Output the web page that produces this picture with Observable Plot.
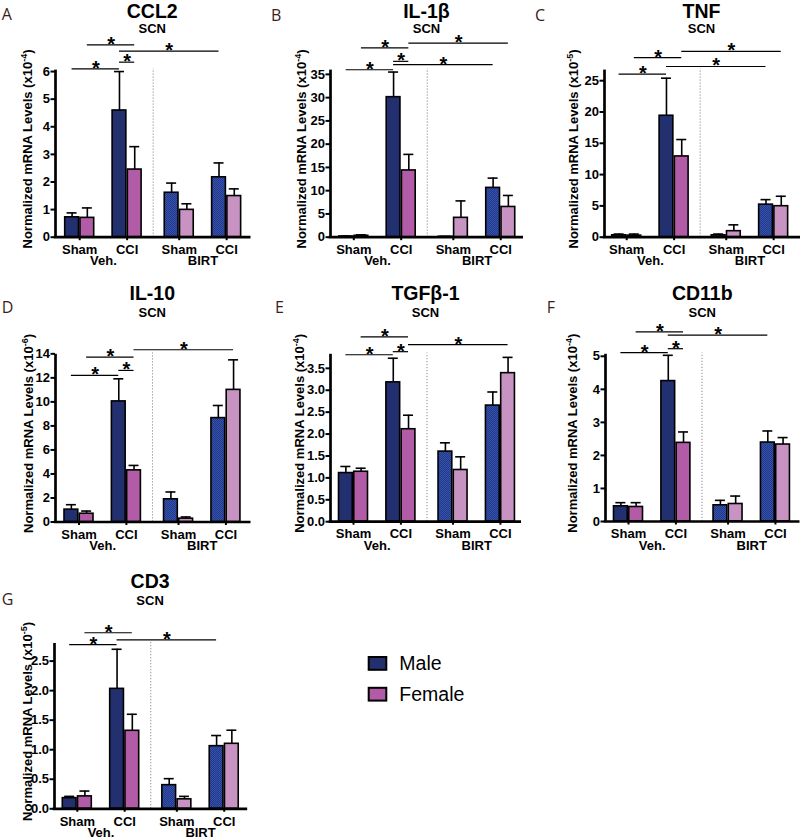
<!DOCTYPE html>
<html><head><meta charset="utf-8">
<script src="https://cdn.jsdelivr.net/npm/d3@7"></script>
<script src="https://cdn.jsdelivr.net/npm/@observablehq/plot@0.6"></script>
<style>
body{margin:0;background:#fff;}
#page{position:relative;width:800px;height:840px;overflow:hidden;background:#fff;}
#page svg{position:absolute;}
#page svg.panel text{font-weight:bold;}
</style></head><body><div id="page"></div>
<script>
// ---------- categories ----------
const conditions = ["Sham", "CCI"];
const treatments = ["Veh.", "BIRT"];
const sexes = ["Male", "Female"];
const sexColors = ["#223070", "#b25ba6"];
// group order: Veh. Sham, Veh. CCI, BIRT Sham, BIRT CCI

// ---------- A: CCL2 (x10^-4) ----------
const ccl2Male = [0.72, 4.59, 1.61, 2.17];
const ccl2MaleSem = [0.16, 1.41, 0.35, 0.52];
const ccl2Female = [0.70, 2.45, 0.99, 1.49];
const ccl2FemaleSem = [0.36, 0.83, 0.22, 0.26];
const ccl2Ticks = [0, 1, 2, 3, 4, 5, 6];
const ccl2Sig = [["0M","1M",6.1],["1M","1F",6.34],["1M","3M",6.74],["0F","1F",6.97]];

// ---------- B: IL-1b (x10^-4) ----------
const il1bMale = [0.15, 30.1, 0.1, 10.6];
const il1bMaleSem = [0.1, 5.4, 0.05, 2.1];
const il1bFemale = [0.3, 14.35, 4.16, 6.5];
const il1bFemaleSem = [0.2, 3.45, 3.64, 2.47];
const il1bTicks = [0, 5, 10, 15, 20, 25, 30, 35];
const il1bSig = [["0M","1M",36.0],["1M","1F",37.8],["1M","3M",37.1],["0F","1F",40.7],["1F","3F",41.7]];

// ---------- C: TNF (x10^-5) ----------
const tnfMale = [0.3, 19.4, 0.3, 5.2];
const tnfMaleSem = [0.2, 6.0, 0.2, 0.8];
const tnfFemale = [0.25, 12.9, 0.96, 4.95];
const tnfFemaleSem = [0.25, 2.7, 1.01, 1.59];
const tnfTicks = [0, 5, 10, 15, 20, 25];
const tnfSig = [["0M","1M",26.06],["0F","1F",28.7],["1M","3M",27.27],["1F","3F",29.67]];

// ---------- D: IL-10 (x10^-6) ----------
const il10Male = [1.03, 10.04, 1.89, 8.65];
const il10MaleSem = [0.41, 1.88, 0.61, 1.05];
const il10Female = [0.69, 4.3, 0.28, 11.0];
const il10FemaleSem = [0.22, 0.41, 0.14, 2.5];
const il10Ticks = [0, 2, 4, 6, 8, 10, 12, 14];
const il10Sig = [["0M","1M",12.2],["1M","1F",12.62],["0F","1F",13.73],["1F","3F",14.34]];

// ---------- E: TGFb-1 (x10^-4) ----------
const tgfMale = [1.11, 3.18, 1.6, 2.65];
const tgfMaleSem = [0.15, 0.55, 0.2, 0.31];
const tgfFemale = [1.14, 2.11, 1.18, 3.39];
const tgfFemaleSem = [0.08, 0.32, 0.3, 0.36];
const tgfTicks = [0, 0.5, 1, 1.5, 2, 2.5, 3, 3.5];
const tgfSig = [["0M","1M",3.81],["1M","1F",3.88],["0F","1F",4.22],["1F","3F",4.04]];

// ---------- F: CD11b (x10^-4) ----------
const cd11bMale = [0.46, 4.25, 0.49, 2.39];
const cd11bMaleSem = [0.11, 0.78, 0.15, 0.35];
const cd11bFemale = [0.44, 2.38, 0.53, 2.33];
const cd11bFemaleSem = [0.13, 0.33, 0.24, 0.21];
const cd11bTicks = [0, 1, 2, 3, 4, 5];
const cd11bSig = [["0M","1M",5.11],["1M","1F",5.23],["0F","1F",5.74],["1M","3M",5.64]];

// ---------- G: CD3 (x10^-5) ----------
const cd3Male = [0.18, 2.03, 0.4, 1.06];
const cd3MaleSem = [0.03, 0.67, 0.11, 0.18];
const cd3Female = [0.21, 1.32, 0.16, 1.1];
const cd3FemaleSem = [0.09, 0.28, 0.05, 0.23];
const cd3Ticks = [0, 0.5, 1, 1.5, 2, 2.5];
const cd3Sig = [["0M","1M",2.78],["0F","1F",2.98],["1M","3M",2.86]];

const fInt = d3.format("d"), f1 = d3.format(".1f");
const panels = [
  {letter:"A", title:"CCL2",   exp:"-4", male:ccl2Male, maleSem:ccl2MaleSem, female:ccl2Female, femaleSem:ccl2FemaleSem, ticks:ccl2Ticks, fmt:fInt, yMax:6.1,  sig:ccl2Sig},
  {letter:"B", title:"IL-1β",  exp:"-4", male:il1bMale, maleSem:il1bMaleSem, female:il1bFemale, femaleSem:il1bFemaleSem, ticks:il1bTicks, fmt:fInt, yMax:36.2, sig:il1bSig},
  {letter:"C", title:"TNF",    exp:"-5", male:tnfMale,  maleSem:tnfMaleSem,  female:tnfFemale,  femaleSem:tnfFemaleSem,  ticks:tnfTicks,  fmt:fInt, yMax:26.9, sig:tnfSig},
  {letter:"D", title:"IL-10",  exp:"-6", male:il10Male, maleSem:il10MaleSem, female:il10Female, femaleSem:il10FemaleSem, ticks:il10Ticks, fmt:fInt, yMax:14.07, sig:il10Sig},
  {letter:"E", title:"TGFβ-1", exp:"-4", male:tgfMale,  maleSem:tgfMaleSem,  female:tgfFemale,  femaleSem:tgfFemaleSem,  ticks:tgfTicks,  fmt:f1,   yMax:3.85, sig:tgfSig},
  {letter:"F", title:"CD11b",  exp:"-4", male:cd11bMale,maleSem:cd11bMaleSem,female:cd11bFemale,femaleSem:cd11bFemaleSem,ticks:cd11bTicks,fmt:fInt, yMax:5.1,  sig:cd11bSig},
  {letter:"G", title:"CD3",    exp:"-5", male:cd3Male,  maleSem:cd3MaleSem,  female:cd3Female,  femaleSem:cd3FemaleSem,  ticks:cd3Ticks,  fmt:f1,   yMax:2.82, sig:cd3Sig}
];

// ---------- layout (page pixels) ----------
const layout = [
  {rowTop:0,   axisX:54.5,  c0:78.7,  xEnd:250,   plotTop:68.3,  y0:236.7, labelX:31.7,  letterX:1.7,   letterY:20,    titleY:17.6},
  {rowTop:0,   axisX:330,   c0:353.3, xEnd:523,   plotTop:68.3,  y0:236.7, labelX:306.2, letterX:271,   letterY:20.7,  titleY:17.6},
  {rowTop:0,   axisX:603.5, c0:625.7, xEnd:799.5, plotTop:68.3,  y0:236.7, labelX:578,   letterX:535,   letterY:20.7,  titleY:17.6},
  {rowTop:284, axisX:54.5,  c0:78,    xEnd:250,   plotTop:352.5, y0:521.5, labelX:32.5,  letterX:1.7,   letterY:312.7, titleY:300},
  {rowTop:284, axisX:330,   c0:353,   xEnd:521,   plotTop:352.5, y0:521.2, labelX:304,   letterX:275,   letterY:313,   titleY:300},
  {rowTop:284, axisX:605,   c0:628,   xEnd:799.5, plotTop:352.5, y0:521,   labelX:576.7, letterX:546.7, letterY:313,   titleY:300},
  {rowTop:572, axisX:53.5,  c0:76.3,  xEnd:246.7, plotTop:641.7, y0:808.3, labelX:31.5,  letterX:1.7,   letterY:605,   titleY:588.3}
];

const U = 47.4, GAP = 0.1;
const pos = g => g + (g >= 2 ? GAP : 0);
const PAT = ["#010101", "#020202"];
const page = document.getElementById("page");
const FONT = "Liberation Sans, Arial, Helvetica, sans-serif";

function drawPanel(P, L) {
  const mL = 54, mR = 1, mB = 44;
  const left = L.axisX - mL;
  const width = L.xEnd - left + mR;
  const mT = L.plotTop - L.rowTop;
  const height = L.y0 - L.rowTop + mB;
  const xmin = -(L.c0 - L.axisX) / U, xmax = (L.xEnd - L.c0) / U;
  const px = v => v / U;

  const bars = [];
  const byKey = new Map();
  for (let g = 0; g < 4; g++) for (let s = 0; s < 2; s++) {
    const mean = s ? P.female[g] : P.male[g];
    const sem = s ? P.femaleSem[g] : P.maleSem[g];
    const c = pos(g);
    const x1 = s ? c + px(0.75) : c - px(14.5);
    const x2 = s ? c + px(14.5) : c - px(0.75);
    const b = {g, s, mean, sem, x1, x2, xc: (x1 + x2) / 2,
      fill: g >= 2 ? PAT[s] : sexColors[s]};
    bars.push(b);
    byKey.set(g + (s ? "F" : "M"), b);
  }
  const sigs = P.sig.map(([a, b, y]) => ({x1: byKey.get(a).xc, x2: byKey.get(b).xc, y}));
  const tickPos = [0, 1, 2, 3].map(pos);
  const tickLab = new Map(tickPos.map((p, i) => [p, conditions[i % 2]]));
  const sepX = (pos(1) + pos(2)) / 2;
  const T = {fontSize: 13, fontWeight: "bold", fontFamily: FONT};

  const svg = Plot.plot({
    width, height, marginLeft: mL, marginRight: mR, marginTop: mT, marginBottom: mB,
    x: {domain: [xmin, xmax]},
    y: {domain: [0, P.yMax]},
    color: {type: "identity"},
    marks: [
      Plot.ruleX([sepX], {y1: 0, y2: P.yMax, stroke: "#8a8a8a", strokeWidth: 1, strokeDasharray: "1.2,1.8"}),
      Plot.rectY(bars, {x1: "x1", x2: "x2", y1: 0, y2: "mean", fill: "fill", stroke: "#000", strokeWidth: 1.6}),
      Plot.ruleX(bars, {x: "xc", y1: "mean", y2: d => d.mean + d.sem, stroke: "#000", strokeWidth: 1.6}),
      Plot.ruleY(bars, {y: d => d.mean + d.sem, x1: d => d.xc - px(5), x2: d => d.xc + px(5), stroke: "#000", strokeWidth: 1.6}),
      Plot.axisY({ticks: P.ticks, tickFormat: P.fmt, tickSize: 4.5, tickPadding: 1, strokeWidth: 2, label: null, ...T}),
      Plot.axisX({ticks: tickPos, tickFormat: d => tickLab.get(d), tickSize: 3.5, tickPadding: 4, strokeWidth: 2, label: null, ...T}),
      Plot.text(treatments, {x: (d, i) => (pos(2 * i) + pos(2 * i + 1)) / 2, y: 0, text: d => d, dy: 28, lineAnchor: "bottom", ...T}),
      Plot.ruleX([xmin], {y1: 0, y2: P.yMax, stroke: "#000", strokeWidth: 2.7, insetBottom: -1.3}),
      Plot.ruleY([0], {stroke: "#000", strokeWidth: 2.7, insetLeft: -1.3}),
      Plot.ruleY(sigs, {y: "y", x1: "x1", x2: "x2", stroke: "#000", strokeWidth: 1.2}),
      Plot.text(sigs, {x: d => (d.x1 + d.x2) / 2, y: "y", text: () => "*", lineAnchor: "bottom", dy: 6, ...T, fontSize: 20})
    ]
  });
  svg.classList.add("panel");
  svg.style.position = "absolute";
  svg.style.left = left + "px";
  svg.style.top = L.rowTop + "px";
  svg.style.background = "transparent";
  svg.style.overflow = "visible";
  svg.style.maxWidth = "none";
  svg.style.fontFamily = FONT;
  svg.style.fontSize = "13px";
  svg.style.fontWeight = "bold";
  svg.style.color = "#000";
  svg.querySelectorAll('[fill="' + PAT[0] + '"]').forEach(e => e.setAttribute("fill", "url(#patM)"));
  svg.querySelectorAll('[fill="' + PAT[1] + '"]').forEach(e => e.setAttribute("fill", "url(#patF)"));
  page.appendChild(svg);
}

panels.forEach((P, i) => drawPanel(P, layout[i]));

// ---------- overlay: letters, titles, y labels, legend, patterns ----------
let o = `<svg xmlns="http://www.w3.org/2000/svg" width="800" height="840" style="left:0;top:0;pointer-events:none;overflow:visible">
<defs>
<pattern id="patM" patternUnits="userSpaceOnUse" width="2" height="2">
<rect width="2" height="2" fill="#243882"/><rect width="1" height="1" fill="#3452b2"/><rect x="1" y="1" width="1" height="1" fill="#3452b2"/>
</pattern>
<pattern id="patF" patternUnits="userSpaceOnUse" width="2" height="2">
<rect width="2" height="2" fill="#c09bbc"/><rect width="1" height="1" fill="#cf8ac8"/><rect x="1" y="1" width="1" height="1" fill="#cf8ac8"/>
</pattern>
</defs>`;
panels.forEach((P, i) => {
  const L = layout[i];
  const cx = (L.axisX + L.xEnd) / 2;
  const mid = (L.plotTop + L.y0) / 2 - 3.5;
  o += `<text x="${L.letterX}" y="${L.letterY}" font-family="Open Sans, sans-serif" font-size="16" fill="#3b1d1b">${P.letter}</text>`;
  o += `<text x="${cx}" y="${L.titleY}" text-anchor="middle" font-family="${FONT}" font-weight="bold" font-size="19.5">${P.title}</text>`;
  o += `<text x="${cx}" y="${L.rowTop + 33}" text-anchor="middle" font-family="${FONT}" font-weight="bold" font-size="13">SCN</text>`;
  o += `<text transform="translate(${L.labelX},${mid}) rotate(-90)" text-anchor="middle" font-family="${FONT}" font-weight="bold" font-size="13">Normalized mRNA Levels (x10<tspan font-size="9" dy="-5">${P.exp}</tspan><tspan font-size="13" dy="5">)</tspan></text>`;
});
sexes.forEach((s, i) => {
  const y = 657 + i * 30.8;
  o += `<rect x="368.7" y="${y}" width="17.6" height="12.8" fill="${sexColors[i]}" stroke="#000" stroke-width="2"/>`;
  o += `<text x="399.3" y="${y + 13}" font-family="${FONT}" font-size="19.5">${s}</text>`;
});
o += `</svg>`;
page.insertAdjacentHTML("beforeend", o);
</script></body></html>
